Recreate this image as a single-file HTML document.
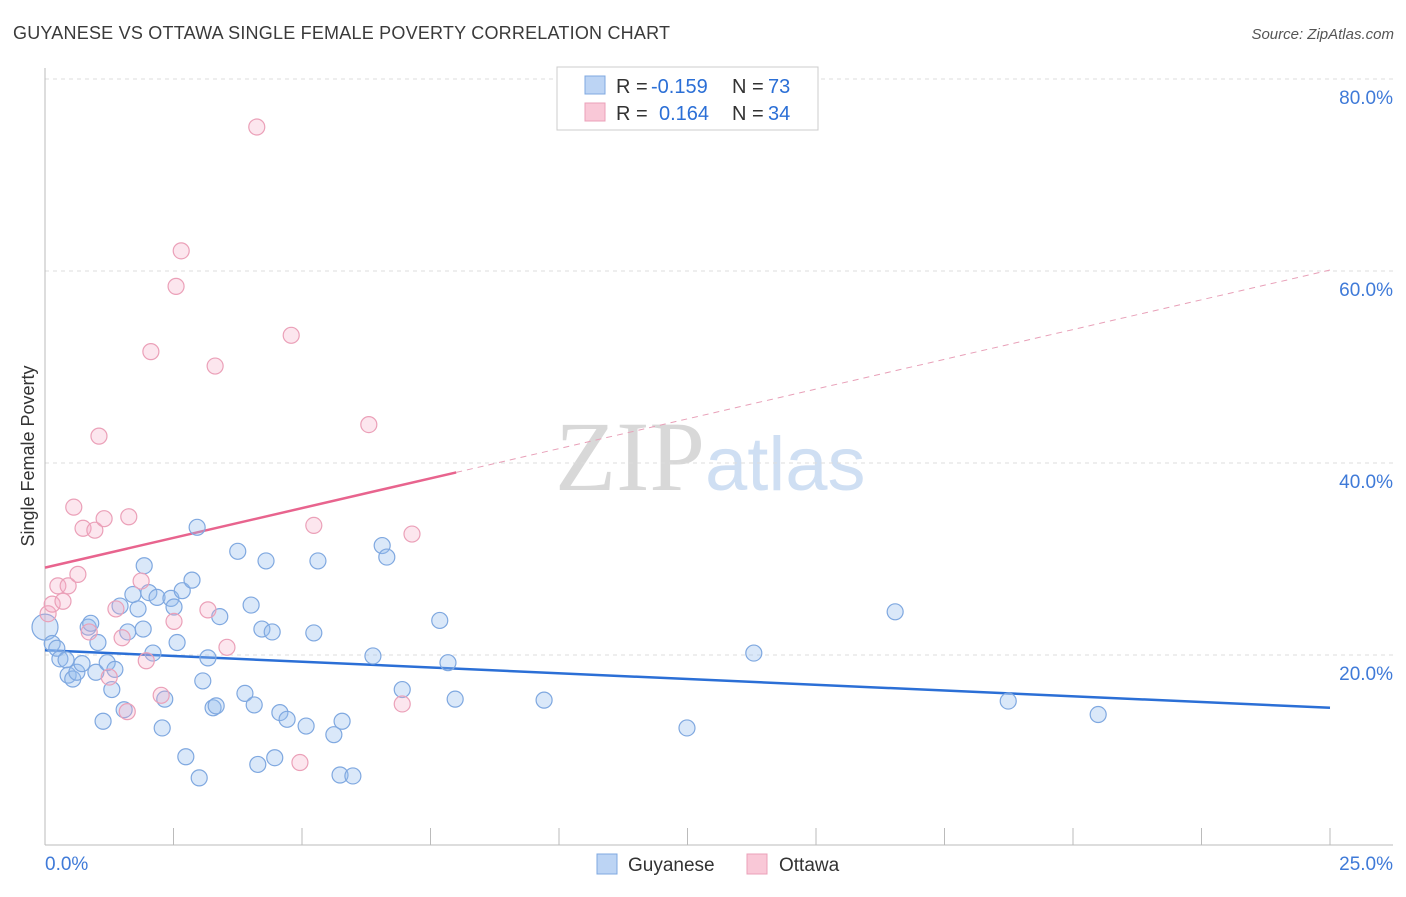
<!DOCTYPE html>
<html><head><meta charset="utf-8"><style>
body{margin:0;background:#fff;font-family:"Liberation Sans",sans-serif;}
svg text{font-family:"Liberation Sans",sans-serif;}
</style></head><body>
<svg id="chart" width="1406" height="892" xmlns="http://www.w3.org/2000/svg">
<text x="13" y="39" font-size="18" fill="#3a3a3a" textLength="657" lengthAdjust="spacing">GUYANESE VS OTTAWA SINGLE FEMALE POVERTY CORRELATION CHART</text>
<text x="1394" y="39" font-size="15" fill="#555" font-style="italic" text-anchor="end">Source: ZipAtlas.com</text>
<text x="555" y="490" font-size="100"><tspan fill="#d8d8d8" font-family="Liberation Serif">ZIP</tspan><tspan fill="#cfdff3" font-size="76">atlas</tspan></text>
<g id="grid"></g>
<g id="axes"></g>
<g id="trend"></g>
<g id="pts"></g>
<text transform="translate(34,456) rotate(-90)" font-size="18" fill="#333" text-anchor="middle">Single Female Poverty</text>
<g>
<rect x="557" y="67" width="261" height="63" fill="#fff" stroke="#ccc"/>
<rect x="585" y="76" width="20" height="18" fill="#bcd4f4" stroke="#7fa8e0"/>
<rect x="585" y="103" width="20" height="18" fill="#f9c8d7" stroke="#eba0b8"/>
<text x="616" y="93" font-size="20" fill="#333">R =</text>
<text x="651" y="93" font-size="20" fill="#2b6fd6">-0.159</text>
<text x="732" y="93" font-size="20" fill="#333">N =</text>
<text x="768" y="93" font-size="20" fill="#2b6fd6">73</text>
<text x="616" y="120" font-size="20" fill="#333">R =</text>
<text x="659" y="120" font-size="20" fill="#2b6fd6">0.164</text>
<text x="732" y="120" font-size="20" fill="#333">N =</text>
<text x="768" y="120" font-size="20" fill="#2b6fd6">34</text>
</g>
<g>
<rect x="597" y="854" width="20" height="20" fill="#bcd4f4" stroke="#7fa8e0"/>
<text x="628" y="871" font-size="19" fill="#333">Guyanese</text>
<rect x="747" y="854" width="20" height="20" fill="#f9c8d7" stroke="#eba0b8"/>
<text x="779" y="871" font-size="19" fill="#333">Ottawa</text>
</g>
</svg>
<script>
const blueX=[0.0,0.14,0.23,0.29,0.41,0.45,0.54,0.62,0.72,0.84,0.89,0.99,1.03,1.13,1.21,1.30,1.36,1.46,1.54,1.61,1.71,1.81,1.91,1.93,2.02,2.10,2.18,2.28,2.33,2.45,2.51,2.57,2.67,2.74,2.86,2.96,3.00,3.07,3.17,3.27,3.33,3.40,3.75,3.89,4.01,4.07,4.14,4.22,4.30,4.42,4.47,4.57,4.71,5.08,5.23,5.31,5.62,5.74,5.78,5.99,6.38,6.56,6.65,6.95,7.68,7.84,7.98,9.71,12.49,13.79,16.54,18.74,20.49];
const blueY=[22.9,21.2,20.7,19.6,19.5,17.9,17.5,18.2,19.1,22.9,23.3,18.2,21.3,13.1,19.2,16.4,18.5,25.1,14.3,22.4,26.3,24.8,22.7,29.3,26.5,20.2,26.0,12.4,15.4,25.9,25.0,21.3,26.7,9.4,27.8,33.3,7.2,17.3,19.7,14.5,14.7,24.0,30.8,16.0,25.2,14.8,8.6,22.7,29.8,22.4,9.3,14.0,13.3,12.6,22.3,29.8,11.7,7.5,13.1,7.4,19.9,31.4,30.2,16.4,23.6,19.2,15.4,15.3,12.4,20.2,24.5,15.2,13.8];
const pinkX=[0.06,0.14,0.25,0.35,0.45,0.56,0.64,0.74,0.86,0.97,1.05,1.15,1.25,1.38,1.50,1.60,1.63,1.87,1.97,2.06,2.26,2.51,2.55,2.65,3.17,3.31,3.54,4.12,4.79,4.96,5.23,6.30,6.95,7.14];
const pinkY=[24.3,25.3,27.2,25.6,27.2,35.4,28.4,33.2,22.4,33.0,42.8,34.2,17.7,24.8,21.8,14.1,34.4,27.7,19.4,51.6,15.8,23.5,58.4,62.1,24.7,50.1,20.8,75.0,53.3,8.8,33.5,44.0,14.9,32.6];
const blueTrend=[20.5,14.5];
const pinkTrend=[29.1,60.1];
const pinkSolidEnd=8.0;
const yTicks=[20,40,60,80];
const yTickLabels=["20.0%","40.0%","60.0%","80.0%"];
const xTickLabels=["0.0%","25.0%"];
const NS="http://www.w3.org/2000/svg";
const X=v=>45+v*51.4, Y=v=>847-v*9.6;
function mk(tag,attrs,parent){const e=document.createElementNS(NS,tag);for(const k in attrs)e.setAttribute(k,attrs[k]);document.getElementById(parent).appendChild(e);return e;}
yTicks.forEach((t,i)=>{
 const l=mk('line',{x1:45,x2:1393,y1:Y(t),y2:Y(t),stroke:'#ddd','stroke-dasharray':'4,4'},'grid');
 
 
 const tx=mk('text',{x:1393,y:Y(t)+25,'font-size':19,fill:'#3f7ad8','text-anchor':'end'},'grid');
 tx.textContent=yTickLabels[i];
 
 
});
mk('line',{x1:45,x2:45,y1:68,y2:845,stroke:'#bbb'},'axes');
mk('line',{x1:45,x2:1393,y1:845,y2:845,stroke:'#bbb'},'axes');
for(let i=0;i<=10;i++){const x=X(i*2.5);const t=mk('line',{x1:x,x2:x,y1:828,y2:845,stroke:'#bbb'},'axes');
 
 }
const xl0=mk('text',{x:45,y:870,'font-size':19,fill:'#3f7ad8'},'axes');xl0.textContent=xTickLabels[0];


const xl1=mk('text',{x:1393,y:870,'font-size':19,fill:'#3f7ad8','text-anchor':'end'},'axes');xl1.textContent=xTickLabels[1];


blueX.forEach((v,i)=>{const c=mk('circle',{cx:X(v),cy:Y(blueY[i]),r:i===0?13:8,fill:'rgba(150,189,238,0.35)',stroke:'#7fa8e0','stroke-width':1.2},'pts');
 
 });
pinkX.forEach((v,i)=>{const c=mk('circle',{cx:X(v),cy:Y(pinkY[i]),r:8,fill:'rgba(246,172,198,0.3)',stroke:'#eba0b8','stroke-width':1.2},'pts');
 
 });
const py=x=>pinkTrend[0]+(pinkTrend[1]-pinkTrend[0])*x/25;
const bl=mk('line',{x1:X(0),y1:Y(blueTrend[0]),x2:X(25),y2:Y(blueTrend[1]),stroke:'#2b6fd6','stroke-width':2.5},'trend');


const pl=mk('line',{x1:X(0),y1:Y(py(0)),x2:X(pinkSolidEnd),y2:Y(py(pinkSolidEnd)),stroke:'#e8648e','stroke-width':2.5},'trend');


const pd=mk('line',{x1:X(pinkSolidEnd),y1:Y(py(pinkSolidEnd)),x2:X(25),y2:Y(py(25)),stroke:'#e8a0b8','stroke-width':1,'stroke-dasharray':'6,5'},'trend');


</script>
</body></html>
